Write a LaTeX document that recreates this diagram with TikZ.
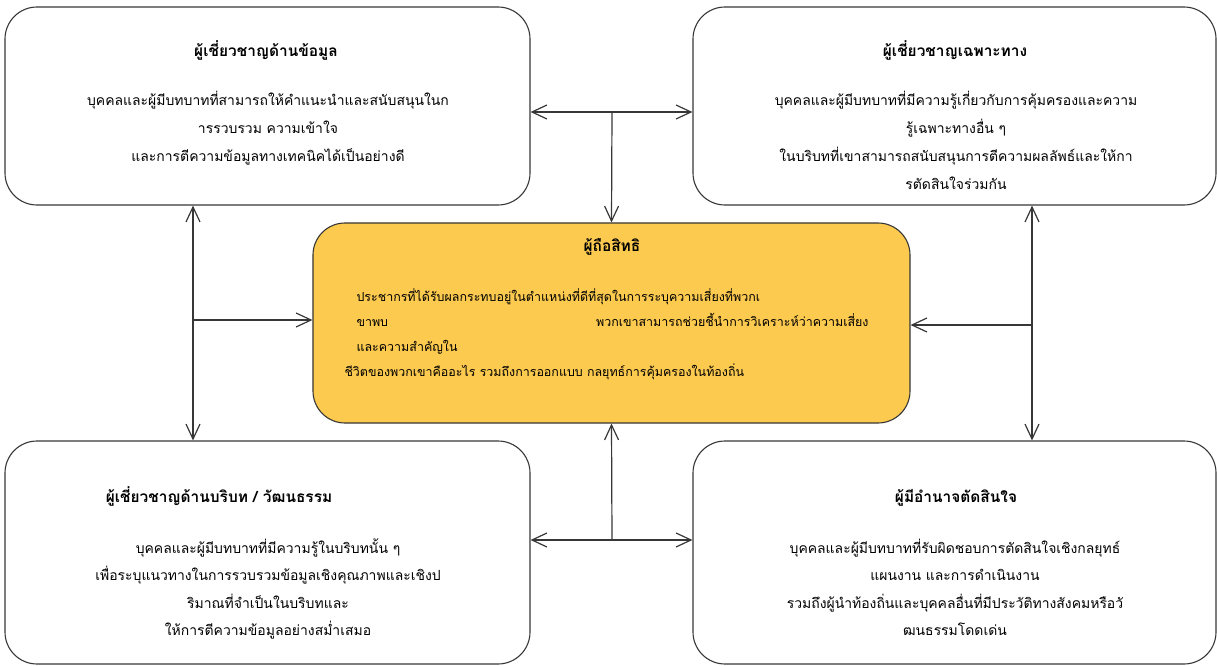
\documentclass[tikz,border=0pt]{standalone}
\usepackage{fontspec}
\newfontfamily\thaifont[Script=Thai]{Loma}
\usepackage{tikz}
\usetikzlibrary{arrows.meta, positioning, calc}
\definecolor{strokecol}{RGB}{55,55,55}
\definecolor{holderfill}{RGB}{253,202,80}

\begin{document}
\begin{tikzpicture}[>={Straight Barb[length=15bp,width=14bp]},line join=bevel,x=1bp,y=-1bp,
    rolebox/.style={draw=strokecol, line width=1.1bp, rounded corners=32bp, inner sep=0pt},
    roletitle/.style={font=\thaifont\bfseries\fontsize{15.5}{18}\selectfont, anchor=base},
    roleline/.style={font=\thaifont\fontsize{14}{17}\selectfont, anchor=base},
    holderline/.style={font=\thaifont\fontsize{12.5}{15}\selectfont, anchor=base west},
    link/.style={draw=strokecol, line width=1.2bp}]
  \useasboundingbox (0,0) rectangle (1217,666);
%%
  % Node: dat
  \node [rolebox, minimum width=525bp, minimum height=198bp] (dat) at (267.5,106) {};
  % Node: spe
  \node [rolebox, minimum width=523bp, minimum height=198bp] (spe) at (954.5,106) {};
  % Node: cen
  \node [rolebox, fill=holderfill, minimum width=597bp, minimum height=200bp] (cen) at (611.5,323) {};
  % Node: ctx
  \node [rolebox, minimum width=525bp, minimum height=223bp] (ctx) at (267.5,552.5) {};
  % Node: dec
  \node [rolebox, minimum width=523bp, minimum height=223bp] (dec) at (954.5,552.5) {};
%%
  % Texts: dat
  \node [roletitle] (dat-t) at (266,57) {ผู้เชี่ยวชาญด้านข้อมูล};
  \node [roleline] (dat-1) at (268,106) {บุคคลและผู้มีบทบาทที่สามารถให้คำแนะนำและสนับสนุนในก};
  \node [roleline] (dat-2) at (268,134) {ารรวบรวม ความเข้าใจ};
  \node [roleline] (dat-3) at (268,162) {และการตีความข้อมูลทางเทคนิคได้เป็นอย่างดี};
  % Texts: spe
  \node [roletitle] (spe-t) at (955,57) {ผู้เชี่ยวชาญเฉพาะทาง};
  \node [roleline] (spe-1) at (956,106) {บุคคลและผู้มีบทบาทที่มีความรู้เกี่ยวกับการคุ้มครองและความ};
  \node [roleline] (spe-2) at (956,134) {รู้เฉพาะทางอื่น ๆ};
  \node [roleline] (spe-3) at (956,162) {ในบริบทที่เขาสามารถสนับสนุนการตีความผลลัพธ์และให้กา};
  \node [roleline] (spe-4) at (956,190) {รตัดสินใจร่วมกัน};
  % Texts: cen
  \node [roletitle] (cen-t) at (612,251) {ผู้ถือสิทธิ};
  \node [holderline] (cen-1) at (353,301) {ประชากรที่ได้รับผลกระทบอยู่ในตำแหน่งที่ดีที่สุดในการระบุความเสี่ยงที่พวกเ};
  \node [holderline] (cen-2) at (353,326) {ขาพบ};
  \node [holderline, anchor=base east] (cen-2b) at (872,326) {พวกเขาสามารถช่วยชี้นำการวิเคราะห์ว่าความเสี่ยง};
  \node [holderline] (cen-3) at (353,351) {และความสำคัญใน};
  \node [holderline] (cen-4) at (341,376) {ชีวิตของพวกเขาคืออะไร รวมถึงการออกแบบ กลยุทธ์การคุ้มครองในท้องถิ่น};
  % Texts: ctx
  \node [roletitle] (ctx-t) at (219,502) {ผู้เชี่ยวชาญด้านบริบท / วัฒนธรรม};
  \node [roleline] (ctx-1) at (268,553) {บุคคลและผู้มีบทบาทที่มีความรู้ในบริบทนั้น ๆ};
  \node [roleline] (ctx-2) at (268,580) {เพื่อระบุแนวทางในการรวบรวมข้อมูลเชิงคุณภาพและเชิงป};
  \node [roleline] (ctx-3) at (268,608) {ริมาณที่จำเป็นในบริบทและ};
  \node [roleline] (ctx-4) at (268,635) {ให้การตีความข้อมูลอย่างสม่ำเสมอ};
  % Texts: dec
  \node [roletitle] (dec-t) at (956,502) {ผู้มีอำนาจตัดสินใจ};
  \node [roleline] (dec-1) at (955,553) {บุคคลและผู้มีบทบาทที่รับผิดชอบการตัดสินใจเชิงกลยุทธ์};
  \node [roleline] (dec-2) at (955,580) {แผนงาน และการดำเนินงาน};
  \node [roleline] (dec-3) at (955,608) {รวมถึงผู้นำท้องถิ่นและบุคคลอื่นที่มีประวัติทางสังคมหรือวั};
  \node [roleline] (dec-4) at (955,635) {ฒนธรรมโดดเด่น};
%%
  \coordinate (tj) at (612,112);
  \coordinate (bj) at (612,540);
  \coordinate (lj) at (193,320);
  \coordinate (rj) at (1032,325);
  % Edge: dat -- spe -- cen
  \draw [link, <->] (dat.east |- tj) -- (spe.west |- tj);
  \draw [link, ->] (tj) -- (cen.north);
  % Edge: ctx -- dec -- cen
  \draw [link, <->] (ctx.east |- bj) -- (dec.west |- bj);
  \draw [link, ->] (bj) -- (cen.south);
  % Edge: dat -- ctx -- cen
  \draw [link, <->] (dat.south -| lj) -- (ctx.north -| lj);
  \draw [link, ->] (lj) -- (cen.west |- lj);
  % Edge: spe -- dec -- cen
  \draw [link, <->] (spe.south -| rj) -- (dec.north -| rj);
  \draw [link, ->] (rj) -- (cen.east |- rj);
%
\end{tikzpicture}
\end{document}
